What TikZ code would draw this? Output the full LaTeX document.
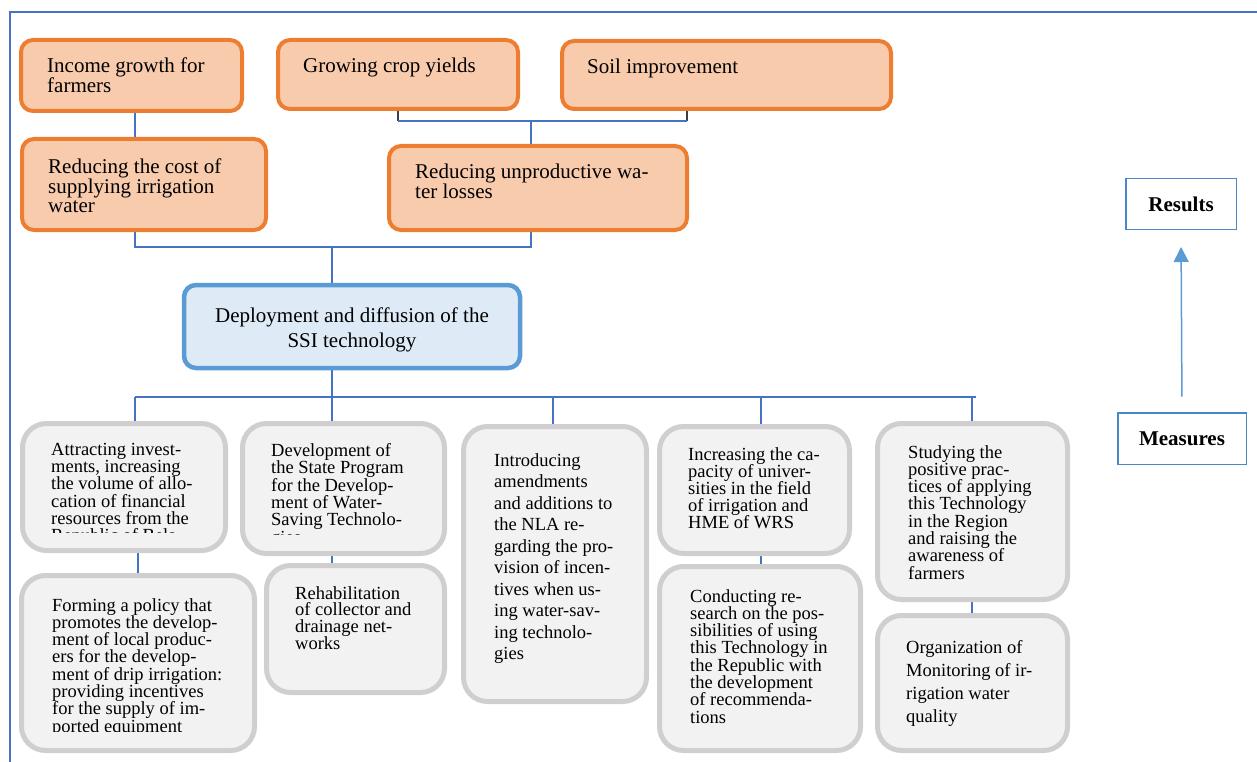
\documentclass[tikz,border=0pt]{standalone}
\usepackage{fontspec}
\setmainfont{Liberation Serif}
\usetikzlibrary{arrows.meta,backgrounds}

\definecolor{orangeedge}{HTML}{ED7D31}
\definecolor{orangefill}{HTML}{F8CBAD}
\definecolor{blueedge}{HTML}{5B9BD5}
\definecolor{bluefill}{HTML}{DEEBF7}
\definecolor{grayedge}{HTML}{D0CECE}
\definecolor{grayfill}{HTML}{F2F2F2}
\definecolor{linkblue}{HTML}{4472C4}
\definecolor{legendedge}{HTML}{4A86C8}

\setlength{\lineskiplimit}{-100pt}

\tikzset{
  result/.style={draw=orangeedge, fill=orangefill, line width=4pt, rounded corners=12pt, inner sep=0pt},
  core/.style={draw=blueedge, fill=bluefill, line width=4.5pt, rounded corners=12pt, inner sep=0pt},
  measure/.style={draw=grayedge, fill=grayfill, line width=5pt, rounded corners=24pt, inner sep=0pt},
  legendbox/.style={draw=legendedge, line width=1.5pt, inner sep=0pt,
    font=\fontsize{21}{24}\selectfont\bfseries},
  txt/.style={anchor=north west, inner sep=0pt, align=left},
  bigtext/.style={font=\fontsize{21}{#1}\selectfont},
  smalltext/.style={font=\fontsize{18.5}{#1}\selectfont},
  link/.style={draw=linkblue, line width=1.3pt},
  stub/.style={draw=black!75, line width=1.3pt},
  frame/.style={draw=linkblue, line width=2.8pt},
  arrowline/.style={draw=blueedge, line width=1.5pt,
    -{Triangle[width=15pt,length=15pt]}},
}

\begin{document}
\begin{tikzpicture}[x=1pt,y=-1pt]
\useasboundingbox (0,0) rectangle (1257,762);

% outer frame
\draw[frame] (10,762) -- (10,12) -- (1257,12);

% results of the technology
\node[result, minimum width=221pt, minimum height=71pt] (inc) at (131.5,75.5) {};
\node[result, minimum width=240pt, minimum height=69pt] (crop) at (398,74.5) {};
\node[result, minimum width=329pt, minimum height=68pt] (soil) at (726.5,75) {};
\node[result, minimum width=244pt, minimum height=91pt] (cost) at (144,184.5) {};
\node[result, minimum width=298pt, minimum height=84pt] (loss) at (538,188) {};

\node[txt, bigtext=20] (tinc) at (47,58) {Income growth for\\farmers};
\node[txt, bigtext=20] (tcrop) at (303,58) {Growing crop yields};
\node[txt, bigtext=20] (tsoil) at (587,59) {Soil improvement};
\node[txt, bigtext=19.2] (tcost) at (48,159) {Reducing the cost of\\supplying irrigation\\water};
\node[txt, bigtext=20] (tloss) at (415,164) {Reducing unproductive wa-\\ter losses};

% central box
\node[core, minimum width=336pt, minimum height=83pt] (dep) at (352,326.5) {};
\node[anchor=north, inner sep=0pt, align=center, bigtext=24.3] (tdep) at (352,308)
  {Deployment and diffusion of the\\SSI technology};

% measures
\node[measure, minimum width=203pt, minimum height=127pt] (A) at (124,487) {};
\node[measure, minimum width=202pt, minimum height=130pt] (B) at (343.5,488.5) {};
\node[measure, minimum width=233pt, minimum height=175pt] (C) at (138,663) {};
\node[measure, minimum width=178pt, minimum height=127pt] (D) at (355.5,629) {};
\node[measure, minimum width=183pt, minimum height=275pt] (E) at (555,564) {};
\node[measure, minimum width=190pt, minimum height=127pt] (F) at (754.5,490) {};
\node[measure, minimum width=201pt, minimum height=184pt] (G) at (760,658.5) {};
\node[measure, minimum width=190pt, minimum height=176pt] (H) at (972.5,511.5) {};
\node[measure, minimum width=190pt, minimum height=135pt] (I) at (972.5,683) {};

\begin{scope}
  \clip (20,421) rectangle (228,532);
  \node[txt, smalltext=17.2] (tA) at (51,443)
    {Attracting invest-\\ments, increasing\\the volume of allo-\\cation of financial\\resources from the\\Republic of Bela-};
\end{scope}
\begin{scope}
  \clip (240,421) rectangle (447,534);
  \node[txt, smalltext=17.4] (tB) at (271,443)
    {Development of\\the State Program\\for the Develop-\\ment of Water-\\Saving Technolo-\\gies};
\end{scope}
\begin{scope}
  \clip (19,573) rectangle (257,731);
  \node[txt, smalltext=17.3] (tC) at (52,598)
    {Forming a policy that\\promotes the develop-\\ment of local produc-\\ers for the develop-\\ment of drip irrigation:\\providing incentives\\for the supply of im-\\ported equipment};
\end{scope}
\node[txt, smalltext=16.9] (tD) at (295,586) {Rehabilitation\\of collector and\\drainage net-\\works};
\node[txt, smalltext=21.5] (tE) at (494,453)
  {Introducing\\amendments\\and additions to\\the NLA re-\\garding the pro-\\vision of incen-\\tives when us-\\ing water-sav-\\ing technolo-\\gies};
\node[txt, smalltext=17] (tF) at (688,447)
  {Increasing the ca-\\pacity of univer-\\sities in the field\\of irrigation and\\HME of WRS};
\node[txt, smalltext=17.3] (tG) at (690,589)
  {Conducting re-\\search on the pos-\\sibilities of using\\this Technology in\\the Republic with\\the development\\of recommenda-\\tions};
\node[txt, smalltext=17.3] (tH) at (908,445)
  {Studying the\\positive prac-\\tices of applying\\this Technology\\in the Region\\and raising the\\awareness of\\farmers};
\node[txt, smalltext=23] (tI) at (906,640)
  {Organization of\\Monitoring of ir-\\rigation water\\quality};

% legend
\node[legendbox, minimum width=110.5pt, minimum height=50.5pt] (res) at (1181,204) {Results};
\node[legendbox, minimum width=128.5pt, minimum height=51.5pt] (mea) at (1182,438.5) {Measures};
\draw[arrowline, shorten <=15.5pt, shorten >=17pt] (mea.north) -- (res.south);

% connectors
\begin{pgfonlayer}{background}
  \draw[link] ([xshift=3.5pt]inc.south) -- ([xshift=3.5pt]inc.south |- cost.north);

  \coordinate (j1) at (398,121);
  \coordinate (j2) at (687,121);
  \coordinate (j3) at (531,121);
  \draw[stub] (crop.south) -- (crop.south |- j1);
  \draw[stub] (j2 |- soil.south) -- (j2);
  \draw[link] (crop.south |- j1) -- (j2);
  \draw[link] (j3) -- (j3 |- loss.north);

  \coordinate (k1) at (135,247);
  \coordinate (k2) at (531,247);
  \coordinate (k3) at (332,247);
  \draw[link] (k1 |- cost.south) -- (k1) -- (k2) -- (k2 |- loss.south);
  \draw[link] (k3) -- (k3 |- dep.north);

  \coordinate (busL) at (135,397);
  \coordinate (busR) at (976,397);
  \coordinate (bE) at (553,397);
  \coordinate (bF) at (761,397);
  \coordinate (bH) at (972,397);
  \coordinate (kAC) at (138,563);
  \draw[link] (busL) -- (busR);
  \draw[link] (k3 |- dep.south) -- (k3 |- B.north);
  \draw[link] (busL) -- (busL |- A.north);
  \draw[link] (bE) -- (bE |- E.north);
  \draw[link] (bF) -- (bF |- F.north);
  \draw[link] (bH) -- (bH |- H.north);

  \draw[link] (kAC |- A.south) -- (kAC |- C.north);
  \draw[link] (k3 |- B.south) -- (k3 |- D.north);
  \draw[link] (bF |- F.south) -- (bF |- G.north);
  \draw[link] (bH |- H.south) -- (bH |- I.north);
\end{pgfonlayer}
\end{tikzpicture}
\end{document}
